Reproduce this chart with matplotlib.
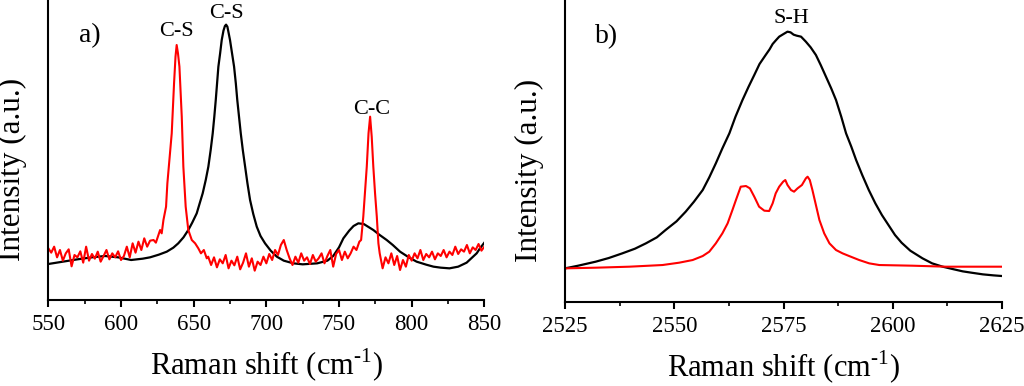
import matplotlib
matplotlib.use("Agg")
import matplotlib.pyplot as plt
from matplotlib.ticker import MultipleLocator, AutoMinorLocator

plt.rcParams['font.family'] = ['Liberation Serif', 'DejaVu Serif']
plt.rcParams['mathtext.fontset'] = 'custom'
plt.rcParams['mathtext.rm'] = 'Liberation Serif'

# panel a) black spectrum
a_black_x = [550, 560, 570, 580, 589, 598, 607, 615, 620, 626, 631.5, 636, 639.4, 643, 646.3,
             649, 652.1, 654, 656.2, 658.3, 660.1, 661.7, 663.1, 664.2, 665.2, 666.1, 667,
             668.2, 669.3, 670.5, 671.5, 672.3, 673.2, 674.1, 675, 676.4, 677.8, 679, 680,
             681.2, 682.4, 683.8, 685.4, 687, 688.8, 691, 693.4, 696, 699.1, 703, 707.2,
             712, 718.6, 725, 735, 742, 746, 750, 753, 757, 760, 763.3, 767, 773.6, 778,
             782.8, 787, 792, 798, 803.4, 810, 815, 820, 826, 832, 837.8, 841, 844.7, 847, 850]
a_black_y = [108, 115, 122, 128, 132, 128, 120, 124, 128, 136, 145, 157, 170, 188, 210,
             232, 260, 288, 320, 360, 400, 450, 500, 550, 600, 650, 700,
             740, 780, 808, 822, 826, 820, 800, 780, 740, 700, 650, 600,
             550, 500, 450, 400, 350, 300, 258, 220, 192, 170, 148, 130,
             118, 110, 107, 110, 118, 132, 158, 185, 208, 222, 230, 228, 210, 195,
             180, 165, 145, 128, 115, 106, 100, 97, 95, 100, 112, 125, 140, 155, 172]

# panel a) red spectrum (noisy)
a_red_x = [550, 552, 554, 556, 558, 560, 562, 564, 566, 568, 570, 572, 574, 576, 578, 580,
           582, 584, 586, 588, 590, 592, 594, 596, 598, 600,
           602, 604, 606, 608, 610, 612, 614, 616, 618, 620, 622.4, 624, 626.9, 628,
           629.2, 631, 631.9, 633.3, 634.9, 636.5, 637.5, 638.3, 639.2, 640.2, 641.8,
           642.9, 644.5, 646.3, 648.7, 651, 653.2, 655, 657, 659,
           660, 662, 664, 666, 668, 670, 672, 674, 676, 678, 680, 682, 684, 686, 688, 690,
           692, 694, 696, 698, 700,
           702, 704, 706, 708, 710, 712, 714, 716,
           718, 720, 722, 724, 726, 728, 730, 732, 734, 736, 738, 740, 742, 744, 746, 748,
           750, 752, 754, 756, 758, 760, 762, 764,
           765.2, 766.7, 768, 769.1, 770.3, 771.4, 772.5, 773.6, 774.8, 776, 777.1, 778,
           780, 782, 784, 786, 788, 790, 792, 794, 796, 798, 800,
           802, 804, 806, 808, 810, 812, 814, 816, 818, 820, 822, 824, 826, 828, 830, 832,
           834, 836, 838, 840, 842, 844, 846, 848, 850]
a_red_y = [155, 142, 160, 128, 150, 118, 140, 152, 101, 135, 128, 146, 112, 160, 118, 138,
           124, 145, 115, 132, 150, 122, 140, 128, 146, 120,
           132, 160, 128, 170, 142, 175, 150, 185, 160, 178, 180, 172, 210, 200,
           240, 280, 350, 420, 500, 650, 730, 765, 740, 700, 550,
           400, 280, 210, 180, 170, 155, 140, 150, 125,
           130, 105, 128, 98, 122, 110, 135, 95, 118, 104, 130, 92, 112, 140, 100, 125,
           88, 115, 105, 130, 110,
           138, 120, 150, 135, 165, 180, 150, 125,
           105, 130, 112, 140, 118, 128, 108, 135, 115, 125, 140, 110, 132, 150, 100, 138,
           150, 120, 145, 125, 140, 160, 150, 175,
           180, 250, 330, 400, 500, 550, 490, 400, 320, 250, 170, 140,
           95, 128, 110, 140, 105, 132, 90, 120, 100, 135, 118,
           140, 125, 150, 120, 138, 128, 145, 122, 140, 132, 150, 128, 145, 135, 160, 138,
           152, 145, 165, 140, 158, 150, 168, 148, 160]

# panel b) black spectrum
b_black_x = [2525, 2528, 2532, 2535, 2538.1, 2541, 2543.5, 2546, 2548, 2550.5, 2552.6, 2554.5,
             2556.5, 2558, 2559.5, 2561, 2562.6, 2564, 2565.6, 2567, 2568.3, 2569.5, 2570.9,
             2571.8, 2572.5, 2573.3, 2574, 2575, 2575.9, 2576.6, 2577.3, 2578, 2579, 2580.1,
             2581.2, 2582.4, 2583.5, 2584.7, 2585.9, 2587, 2588.2, 2589.3, 2590.5, 2591.6,
             2593, 2594.5, 2596, 2597.5, 2599, 2600.5, 2602, 2604, 2606.8, 2609, 2611.4,
             2614, 2616, 2618, 2620.6, 2623, 2625]
b_black_y = [95, 103, 115, 126, 140, 154, 170, 188, 210, 236, 265, 295,
             330, 368, 410, 455, 500, 550, 600, 640, 675, 708, 735,
             752, 768, 780, 790, 798, 805, 803, 796, 793, 790, 775,
             758, 735, 705, 670, 635, 600, 550, 500, 460, 420,
             375, 330, 290, 255, 225, 195, 172, 148, 125, 110, 100,
             92, 86, 82, 77, 74, 72]

# panel b) red spectrum
b_red_x = [2525, 2532, 2539.7, 2547.3, 2551.1, 2554.2, 2556.5, 2558, 2559.5, 2561, 2562.2,
           2563.3, 2564.1, 2565.2, 2566.4, 2567.3, 2568.3, 2569.4, 2570.6, 2571.7, 2572.5,
           2573.2, 2574, 2574.9, 2575.4, 2575.9, 2576.7, 2577.4, 2578.2, 2579.2, 2580.1,
           2580.5, 2581, 2581.6, 2582.4, 2583.2, 2584.3, 2585.5, 2587, 2588.5, 2590,
           2592.3, 2594.6, 2596.9, 2600.7, 2604.5, 2612.2, 2625]
b_red_y = [95, 97, 100, 105, 112, 120, 132, 145, 170, 200, 230,
           270, 300, 340, 342, 335, 310, 280, 268, 267, 290,
           320, 340, 355, 360, 345, 330, 325, 335, 345, 365,
           370, 360, 330, 285, 240, 200, 170, 150, 140, 132,
           120, 110, 105, 104, 103, 100, 100]

a_labels = [("C-S", 638.3, 805), ("C-S", 672.8, 858), ("C-C", 772.5, 570)]
b_labels = [("S-H", 2576.7, 845)]

fig = plt.figure(figsize=(10.24, 3.86), dpi=100)
ax1 = fig.add_axes([0.0472, 0.2228, 0.4258, 0.7772])
ax2 = fig.add_axes([0.5518, 0.2184, 0.4268, 0.7816])

ax1.plot(a_black_x, a_black_y, color='black', lw=1.6)
ax1.plot(a_red_x, a_red_y, color='red', lw=1.5)
ax2.plot(b_black_x, b_black_y, color='black', lw=1.6)
ax2.plot(b_red_x, b_red_y, color='red', lw=1.5)

ax1.set_xlim(550, 850)
ax1.set_ylim(0, 900)
ax2.set_xlim(2525, 2625)
ax2.set_ylim(-5, 900)
ax1.xaxis.set_major_locator(MultipleLocator(50))
ax2.xaxis.set_major_locator(MultipleLocator(25))

for ax, tag, labels in [(ax1, "a)", a_labels), (ax2, "b)", b_labels)]:
    ax.spines['top'].set_visible(False)
    ax.spines['right'].set_visible(False)
    ax.spines['left'].set_linewidth(1.5)
    ax.spines['bottom'].set_linewidth(1.5)
    ax.xaxis.set_minor_locator(AutoMinorLocator(2))
    ax.tick_params(axis='x', which='major', direction='out', length=5, width=1.5,
                   labelsize=16.5, pad=5)
    ax.tick_params(axis='x', which='minor', direction='out', length=3, width=1.2)
    ax.set_yticks([])
    ax.set_xlabel('Raman shift (cm$^{\\mathregular{\u20101}}$)', fontsize=22)
    ax.set_ylabel('Intensity (a.u.)', fontsize=22.5)
    ax.xaxis.set_label_coords(0.5, -0.155)
    ax.yaxis.set_label_coords(-0.048, 0.435)
    ax.text(0.095, 0.88, tag, transform=ax.transAxes, fontsize=20,
            ha='center', va='center')
    for txt, x, y in labels:
        ax.text(x, y, txt, fontsize=16, ha='center', va='center')

fig.savefig('out.png', dpi=100)
